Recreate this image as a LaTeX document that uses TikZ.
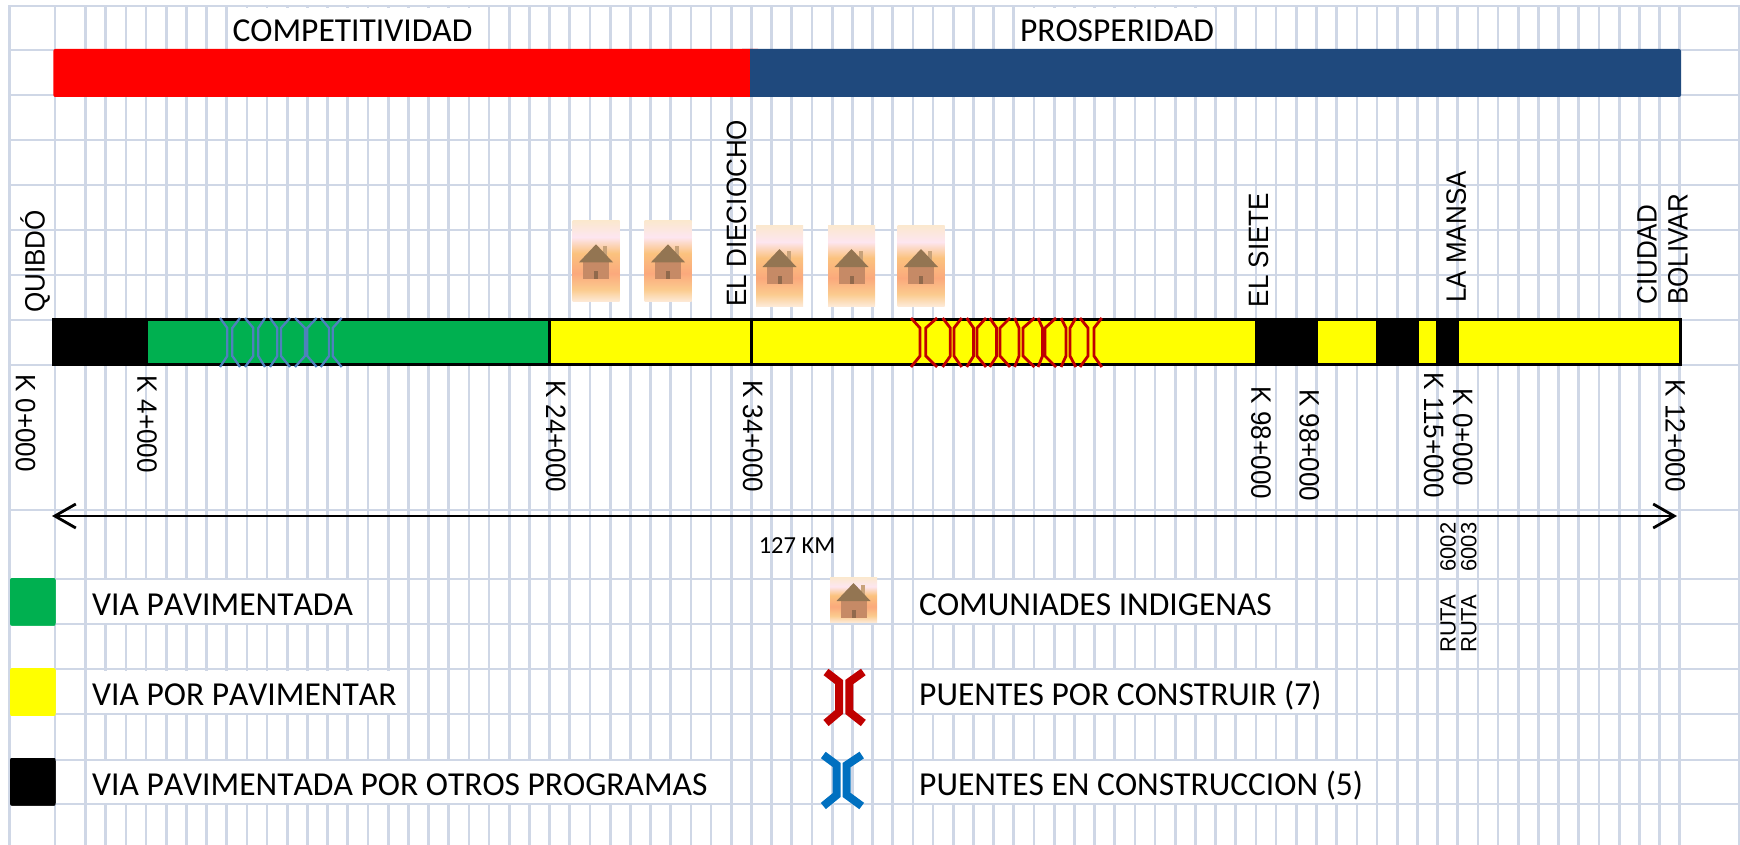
\documentclass[tikz,border=0pt]{standalone}
\usepackage{fontspec}
\setmainfont{Carlito}[Kerning=Off]
\newfontfamily\arial{Liberation Sans}
\newfontfamily\arialancha{Liberation Sans}[FakeStretch=0.93]
\usetikzlibrary{positioning, arrows.meta}

\definecolor{rejilla}{HTML}{CFD7E6}
\definecolor{rojop}{HTML}{FF0000}
\definecolor{azulp}{HTML}{1F497D}
\definecolor{verdev}{HTML}{00B050}
\definecolor{amarillov}{HTML}{FFFF00}
\definecolor{azulpuente}{HTML}{4F81BD}
\definecolor{azulley}{HTML}{0070C0}
\definecolor{rojopuente}{HTML}{C00000}
\definecolor{chimenea}{HTML}{C8A27A}
\definecolor{muro}{HTML}{C68A66}
\definecolor{techo}{HTML}{937552}
\definecolor{puerta}{HTML}{90694C}
\definecolor{g1}{HTML}{FDEAD8}
\definecolor{g2}{HTML}{FBCB8E}
\definecolor{g3}{HTML}{FBA97C}
\definecolor{g4}{HTML}{FBC27E}
\definecolor{g5}{HTML}{FDE6F0}
\definecolor{g6}{HTML}{FBE8CF}
\pgfdeclareverticalshading{degradecasa}{100bp}{color(0bp)=(g1); color(25bp)=(g1); color(32.5bp)=(g2); color(42.5bp)=(g3); color(55bp)=(g4); color(65bp)=(g5); color(75bp)=(g6); color(100bp)=(g6)}

\tikzset{
  titulo/.style={fill=white,inner ysep=0pt,inner xsep=1.5pt,text height=34pt,text depth=7pt,font=\fontsize{33.5}{34}\selectfont},
  leyenda/.style={fill=white,inner ysep=0pt,inner xsep=5pt,text height=35pt,text depth=8pt,font=\fontsize{33.5}{34}\selectfont},
  muestra/.style={rounded corners=2pt,minimum width=45.7pt,minimum height=47.7pt,inner sep=0pt},
  sitio/.style={rotate=90,anchor=west,inner sep=0pt,text height=20pt,text depth=0pt,font=\arialancha\fontsize{28}{28}\selectfont},
  abscisa/.style={rotate=-90,anchor=west,inner sep=0pt,text height=20pt,text depth=0pt,font=\arialancha\fontsize{28}{28}\selectfont},
  ruta/.style={rotate=90,anchor=west,inner sep=0pt,text height=15.8pt,text depth=0pt,font=\arial\fontsize{22}{22}\selectfont},
}

% x exterior, x interior (lado izq.), x interior, x exterior (lado der.), y arriba, y abajo
\newcommand{\puente}[7]{
  \draw[#1] (#2,#6) -- (#3,#6+10) -- (#3,#7-11) -- (#2,#7);
  \draw[#1] (#5,#6) -- (#4,#6+10) -- (#4,#7-11) -- (#5,#7);
}
% centro x, centro y, alto del recuadro
\newcommand{\casita}[3]{
  \shade[shading=degradecasa] (#1-23.5,#2-#3/2) rectangle (#1+23.5,#2+#3/2);
  \fill[chimenea] (#1+7,#2-15) rectangle (#1+11,#2-5);
  \fill[muro] (#1-13,#2) rectangle (#1+13,#2+18);
  \fill[techo] (#1,#2-17) -- (#1+17,#2+1) -- (#1-17,#2+1) -- cycle;
  \fill[puerta] (#1-2,#2+10) rectangle (#1+2,#2+18);
}

\begin{document}
\begin{tikzpicture}[x=1pt,y=-1pt]
  \useasboundingbox (0,0) rectangle (1740,845);

  % rejilla
  \foreach \k in {0,...,79}{
    \draw[rejilla,line width=2.7pt] ({85.5+20.18*\k},6) -- ({85.5+20.18*\k},845);
  }
  \foreach \x in {9.4,55,1739}{
    \draw[rejilla,line width=2.7pt] (\x,6) -- (\x,845);
  }

  % titulos y leyenda (tapan la rejilla)
  \node[titulo](competitividad) at (352.5,28.5) {COMPETITIVIDAD};
  \node[titulo](prosperidad) at (1117,28.5) {PROSPERIDAD};

  \node[muestra,fill=verdev](mverde) at (32.85,601.85) {};
  \node[muestra,fill=amarillov](mamarillo) at (32.85,692) {};
  \node[muestra,fill=black](mnegro) at (32.85,781.85) {};
  \node[leyenda,right=31pt of mverde](tverde) {VIA PAVIMENTADA};
  \node[leyenda,right=31pt of mamarillo](tamarillo) {VIA POR PAVIMENTAR};
  \node[leyenda,right=31pt of mnegro](tnegro) {VIA PAVIMENTADA POR OTROS PROGRAMAS};
  \node[leyenda,anchor=west](tcasas) at (914,601.5) {COMUNIADES INDIGENAS};
  \node[leyenda,anchor=west](trojo) at (914,691.5) {PUENTES POR CONSTRUIR (7)};
  \node[leyenda,anchor=west](tazul) at (914,781.5) {PUENTES EN CONSTRUCCION (5)};

  \foreach \y in {6,50,95,140,185,230,275,320,365,510,579,624,669,714,760,804}{
    \draw[rejilla,line width=2.7pt] (8,\y) -- (1740,\y);
  }
  \node[muestra,fill=verdev] at (mverde) {};
  \node[muestra,fill=amarillov] at (mamarillo) {};
  \node[muestra,fill=black] at (mnegro) {};

  % franjas superiores
  \fill[azulp,rounded corners=2pt] (740,49) rectangle (1681,97);
  \fill[rojop,rounded corners=2pt] (53.3,49) rectangle (760,97);
  \fill[azulp] (750,49) rectangle (770,97);

  % via
  \fill[black] (53,319.5) rectangle (148,364.5);
  \fill[verdev] (148,319.5) rectangle (549.5,364.5);
  \fill[amarillov] (549.5,319.5) rectangle (1679,364.5);
  \foreach \a/\b in {1255/1318,1376/1419,1436/1459}{
    \fill[black] (\a,319.5) rectangle (\b,364.5);
  }
  \draw[line width=3pt] (53,319.5) rectangle (1680,364.5);
  \draw[line width=3pt] (549.7,319.5) -- (549.7,364.5);
  \draw[line width=3pt] (751,319.5) -- (751,364.5);

  % puentes sobre la via
  \foreach \a/\b/\c/\d in {220/227.3/232.3/240,245/253.3/258.3/265,270/277.3/281/290,295/305/307.3/316.7,320.7/329/332.7/341.7}{
    \puente{azulpuente,line width=2.3pt}{\a}{\b}{\c}{\d}{318}{367}
  }
  \foreach \a/\b/\c/\d in {911/920/925.8/937,942.6/950.3/954/961.7,966.7/973.6/977/986,989.7/996.6/1000/1010,1014.6/1019/1023/1034.4,1038/1042.5/1045/1056,1061/1066/1070/1075.8,1080/1088/1094/1101.8}{
    \puente{rojopuente,line width=2.8pt}{\a}{\b}{\c}{\d}{318}{367}
  }

  % comunidades
  \foreach \x/\y in {596/261.3,668/261.3,779.5/266,851.5/266,921/266}{
    \casita{\x}{\y}{80.6}
  }
  \casita{853.5}{600}{45}

  % puentes de la leyenda
  \puente{rojopuente,line width=8pt}{826}{839}{849.3}{863.3}{672}{723}
  \puente{azulley,line width=8pt}{823.3}{836.7}{846.7}{861.7}{755}{806}

  % sitios
  \node[sitio](quibdo) at (34.5,313) {QUIBDÓ};
  \node[sitio](dieciocho) at (736,306.7) {EL DIECIOCHO};
  \node[sitio](siete) at (1258,307.3) {EL SIETE};
  \node[sitio](mansa) at (1455.8,303) {LA MANSA};
  \node[sitio](ciudad) at (1646.5,305) {CIUDAD};
  \node[sitio](bolivar) at (1677.5,305) {BOLIVAR};

  % abscisas
  \node[abscisa](k0) at (25.8,374) {K 0+000};
  \node[abscisa](k4) at (147.3,375) {K 4+000};
  \node[abscisa](k24) at (556,380) {K 24+000};
  \node[abscisa](k34) at (753,380) {K 34+000};
  \node[abscisa](k98a) at (1261.4,386.7) {K 98+000};
  \node[abscisa](k98b) at (1309.6,389) {K 98+000};
  \node[abscisa](k115) at (1434,372.7) {K 115+000};
  \node[abscisa](k0b) at (1463,388.3) {K 0+000};
  \node[abscisa](k12) at (1675.7,379.3) {K 12+000};

  % longitud
  \coordinate (ini) at (52,516);
  \coordinate (fin) at (1677,516);
  \draw[line width=2.8pt,{Straight Barb[length=21pt,width=24pt]}-{Straight Barb[length=21pt,width=24pt]}] (ini) -- (fin);
  \node[inner sep=0pt,font=\fontsize{24.5}{25}\selectfont](km) at (797,546) {127 KM};

  \node[ruta](r6002) at (1447.8,653) {RUTA\hspace{23pt}6002};
  \node[ruta](r6003) at (1468.5,653) {RUTA\hspace{23pt}6003};
\end{tikzpicture}
\end{document}
